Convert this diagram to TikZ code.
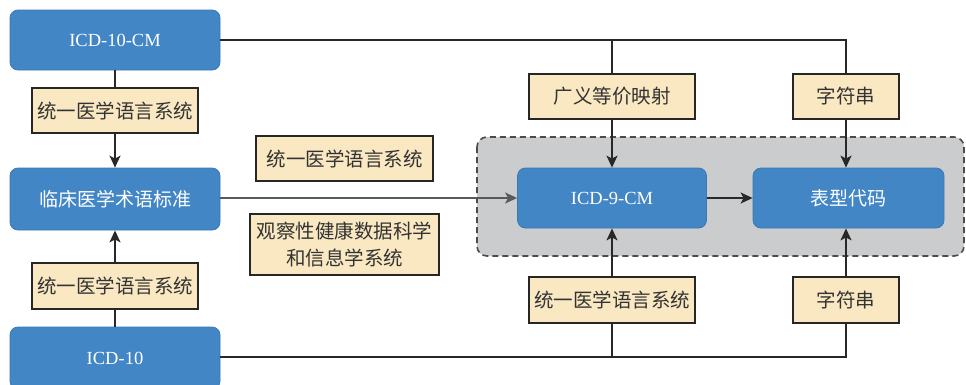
\documentclass[tikz,border=0pt]{standalone}
\usepackage{fontspec}
\setmainfont{Liberation Serif}
\newfontfamily\cjk{Noto Sans CJK SC}
\usetikzlibrary{arrows.meta}
\definecolor{bluebox}{RGB}{66,134,198}
\definecolor{blueedge}{RGB}{60,120,180}
\definecolor{yellowbox}{RGB}{249,232,194}
\definecolor{grayregion}{RGB}{203,204,206}
\definecolor{lineclr}{RGB}{40,40,40}
\begin{document}
\begin{tikzpicture}[x=1pt,y=-1pt,
  bluenode/.style={draw=blueedge, line width=0.8pt, fill=bluebox, rounded corners=8pt, text=white, inner sep=0pt, font=\fontsize{18.5}{20}\selectfont},
  yellownode/.style={draw=black!85, line width=1.3pt, fill=yellowbox, inner sep=0pt, align=center, font=\cjk\fontsize{19.5}{27}\selectfont, text=black!80},
  conn/.style={draw=lineclr, line width=1.6pt},
  arr/.style={conn, -{Stealth[length=12pt,width=11pt,inset=3pt]}}
]
\clip (0,0) rectangle (966,384);
\fill[white] (0,0) rectangle (966,384);
% gray region
\draw[fill=grayregion, draw=black!70, line width=1.6pt, dashed, dash pattern=on 6pt off 4pt, rounded corners=10pt] (477,137) rectangle (964,256);
% blue nodes
\node[bluenode, minimum width=210pt, minimum height=60pt] (cm) at (115,40) {ICD-10-CM};
\node[bluenode, minimum width=210pt, minimum height=62pt, font=\cjk\fontsize{19}{20}\selectfont] (clin) at (115,199) {临床医学术语标准};
\node[bluenode, minimum width=210pt, minimum height=62pt] (icd10) at (115,358) {ICD-10};
\node[bluenode, minimum width=189pt, minimum height=60pt] (icd9) at (612,198) {ICD-9-CM};
\node[bluenode, minimum width=191pt, minimum height=60pt, font=\cjk\fontsize{19}{20}\selectfont] (pheno) at (848.5,198) {表型代码};
% yellow nodes
\node[yellownode, minimum width=166pt, minimum height=45pt] (y1) at (115,110.5) {统一医学语言系统};
\node[yellownode, minimum width=177pt, minimum height=45pt] (y2) at (344.5,158.5) {统一医学语言系统};
\node[yellownode, minimum width=189pt, minimum height=61pt] (y3) at (344.5,244.5) {观察性健康数据科学\\和信息学系统};
\node[yellownode, minimum width=166pt, minimum height=46pt] (y4) at (115,286) {统一医学语言系统};
\node[yellownode, minimum width=166pt, minimum height=45pt] (y5) at (612,96.5) {广义等价映射};
\node[yellownode, minimum width=106pt, minimum height=45pt] (y6) at (846,96.5) {字符串};
\node[yellownode, minimum width=166pt, minimum height=46pt] (y7) at (612,300) {统一医学语言系统};
\node[yellownode, minimum width=106pt, minimum height=46pt] (y8) at (846,300) {字符串};
% coordinates
\coordinate (tm) at (612,40);
\coordinate (tr) at (846,40);
\coordinate (bm) at (612,357);
\coordinate (br) at (846,357);
\coordinate (bl) at (220,357);
% connectors
\draw[conn] (cm.east) -- (tr) -- (y6.north);
\draw[conn] (tm) -- (y5.north);
\draw[arr] (y5.south) -- (y5.south |- icd9.north);
\draw[arr] (y6.south) -- (y6.south |- pheno.north);
\draw[conn] (bl) -- (br) -- (y8.south);
\draw[conn] (bm) -- (y7.south);
\draw[arr] (y7.north) -- (y7.north |- icd9.south);
\draw[arr] (y8.north) -- (y8.north |- pheno.south);
\draw[conn] (cm.south) -- (y1.north);
\draw[arr] (y1.south) -- (clin.north);
\draw[conn] (icd10.north) -- (y4.south);
\draw[arr] (y4.north) -- (clin.south);
\draw[arr, draw=black!65] (clin.east |- icd9.west) -- (icd9.west);
\draw[arr] (icd9.east) -- (pheno.west);
\end{tikzpicture}
\end{document}
